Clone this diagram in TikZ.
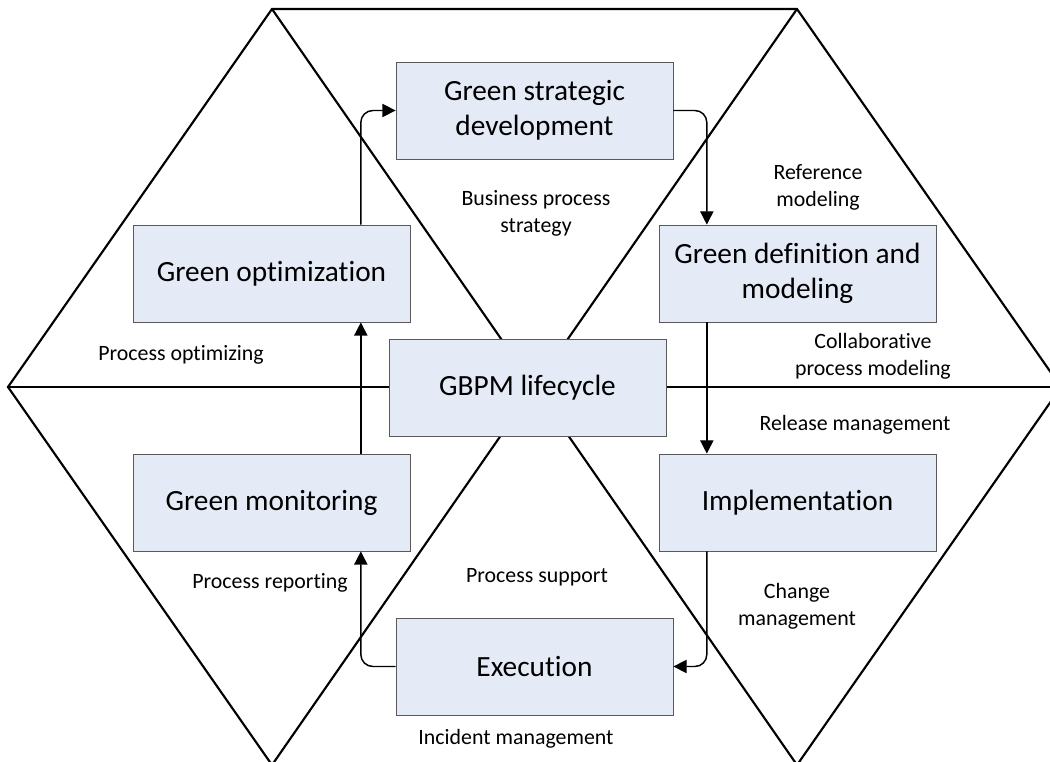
\documentclass[tikz,border=0pt]{standalone}
\usepackage{fontspec}
\setmainfont{Carlito}[Ligatures=CommonOff]
\usetikzlibrary{arrows.meta}
\definecolor{boxfill}{HTML}{E4EAF6}

\begin{document}
\begin{tikzpicture}[x=0.75pt, y=-0.75pt,
        phase/.style={
            rectangle,
            draw=black!65, line width=0.6pt,
            fill=boxfill,
            minimum width=207.75pt,
            minimum height=72.75pt,
            inner sep=0pt,
            align=center,
            font=\fontsize{22}{26.5}\selectfont},
        activity/.style={
            align=center,
            inner sep=0pt,
            font=\fontsize{16.4}{20}\selectfont},
        hexline/.style={
            line width=1.6pt,
            line join=miter},
        arrow/.style={
            line width=1.1pt,
            rounded corners=9pt,
            -{Triangle[length=10pt, width=10pt]}}
        ]

        \useasboundingbox (0,0) rectangle (1050,762);
        \clip (0,0) rectangle (1050,762);

        \coordinate (tl) at (272,9);
        \coordinate (tr) at (797,9);
        \coordinate (r) at (1061,387);
        \coordinate (br) at (797,765);
        \coordinate (bl) at (272,765);
        \coordinate (l) at (8,387);

        \draw [hexline] (tl) -- (tr) -- (r) -- (br) -- (bl) -- (l) -- cycle;
        \draw [hexline] (tl) -- (br);
        \draw [hexline] (tr) -- (bl);
        \draw [hexline] (l) -- (r);

        \node (strategic) [phase] at (534.5,110.5) {Green strategic\\development};
        \node (optimization) [phase] at (271.5,273.5) {Green optimization};
        \node (definition) [phase] at (797.5,273.5) {Green definition and\\modeling};
        \node (lifecycle) [phase] at (527.5,388) {GBPM lifecycle};
        \node (monitoring) [phase] at (271.5,502.5) {Green monitoring};
        \node (implementation) [phase] at (797.5,502.5) {Implementation};
        \node (execution) [phase] at (534.5,666.5) {Execution};

        \node (strategy) [activity] at (536,213.5) {Business process\\strategy};
        \node (reference) [activity] at (818,187.5) {Reference\\modeling};
        \node (collaborative) [activity] at (873,356.5) {Collaborative\\process modeling};
        \node (release) [activity] at (855,425) {Release management};
        \node (change) [activity] at (797,606.5) {Change\\management};
        \node (incident) [activity] at (516,739) {Incident management};
        \node (support) [activity] at (537,577) {Process support};
        \node (reporting) [activity] at (270,583) {Process reporting};
        \node (optimizing) [activity] at (181,355) {Process optimizing};

        \draw [arrow] ([xshift=67pt]optimization.north) |- (strategic);
        \draw [arrow] (strategic) -| ([xshift=-68pt]definition.north);
        \draw [arrow] ([xshift=-68pt]definition.south) -- ([xshift=-68pt]implementation.north);
        \draw [arrow] ([xshift=-68pt]implementation.south) |- (execution);
        \draw [arrow] (execution) -| ([xshift=67pt]monitoring.south);
        \draw [arrow] ([xshift=67pt]monitoring.north) -- ([xshift=67pt]optimization.south);

\end{tikzpicture}
\end{document}
